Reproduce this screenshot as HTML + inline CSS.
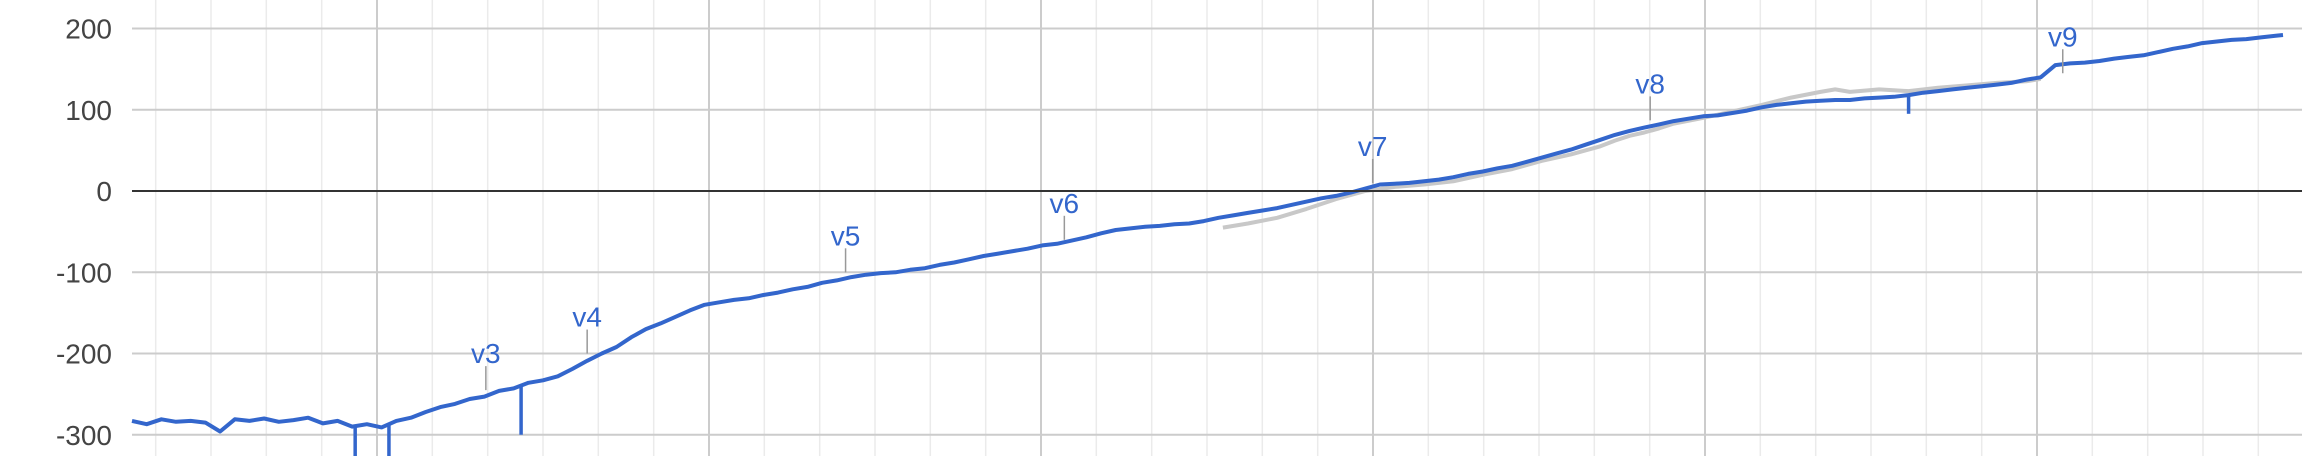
<!DOCTYPE html>
<html><head><meta charset="utf-8"><style>
html,body{margin:0;padding:0;background:#fff;}
svg{display:block;font-family:"Liberation Sans",Arial,sans-serif;}
</style></head><body>
<svg id="chart" width="2302" height="456" viewBox="0 0 2302 456">
<g id="grid"></g>
<g id="yaxis"></g>
<g id="series"></g>
<g id="ann"></g>
</svg>
<script>
const yTicks=[200,100,0,-100,-200,-300];
const blueT=[0,10,20,30,40,50,60,70,80,90,100,110,120,130,140,150,160,170,180,190,200,210,220,230,240,250,260,270,280,290,300,310,320,330,340,350,360,370,380,390,400,410,420,430,440,450,460,470,480,490,500,510,520,530,540,550,560,570,580,590,600,610,620,630,640,650,660,670,680,690,700,710,720,730,740,750,760,770,780,790,800,810,820,830,840,850,860,870,880,890,900,910,920,930,940,950,960,970,980,990,1000,1010,1020,1030,1040,1050,1060,1070,1080,1090,1100,1110,1120,1130,1140,1150,1160,1170,1180,1190,1200,1210,1220,1230,1240,1250,1260,1270,1280,1290,1300,1310,1320,1330,1340,1350,1360,1370,1380,1390,1400,1410,1420,1430,1440,1450,1460,1465];
const blueV=[-283,-287,-281,-284,-283,-285,-296,-281,-283,-280,-284,-282,-279,-286,-283,-290,-287,-291,-283,-279,-272,-266,-262,-256,-253,-246,-243,-236,-233,-228,-219,-209,-200,-192,-180,-170,-163,-155,-147,-140,-137,-134,-132,-128,-125,-121,-118,-113,-110,-106,-103,-101,-100,-97,-95,-91,-88,-84,-80,-77,-74,-71,-67,-65,-61,-57,-52,-48,-46,-44,-43,-41,-40,-37,-33,-30,-27,-24,-21,-17,-13,-9,-6,-2,3,8,9,10,12,14,17,21,24,28,31,36,41,46,51,57,63,69,74,78,82,86,89,92,93,96,99,103,106,108,110,111,112,112,114,115,116,118,121,123,125,127,129,131,133,137,140,155,157,158,160,163,165,167,171,175,178,182,184,186,187,189,191,192];
const spikeT=[152,175,265,1210];
const spikeV=[-335,-335,-300,95];
const grayT=[743,760,780,800,820,840,860,880,900,920,940,960,980,1000,1010,1020,1030,1040,1050,1070,1090,1110,1130,1150,1160,1170,1190,1210,1230,1250,1270,1290,1300];
const grayV=[-45,-40,-33,-22,-10,0,5,8,12,20,27,37,45,55,62,68,72,77,83,90,98,106,115,122,125,122,125,123,127,130,133,135,138];
const annLabels=["v3","v4","v5","v6","v7","v8","v9"];
const annT=[241,310,486,635,845,1034,1315];
const annV=[-250,-205,-105,-65,5,82,140];
const tMax=1465;
const NS="http://www.w3.org/2000/svg";
const L=132,R=2283;
function xs(t){return L+t*(R-L)/tMax;}
function ys(v){return 191-v*0.8125;}
function mk(tag,attrs,parent){const e=document.createElementNS(NS,tag);for(const k in attrs)e.setAttribute(k,attrs[k]);parent.appendChild(e);return e;}
function interp(T,V,t){for(let i=1;i<T.length;i++){if(t<=T[i]){const f=(t-T[i-1])/(T[i]-T[i-1]);return V[i-1]+f*(V[i]-V[i-1]);}}return V[V.length-1];}
const grid=document.getElementById('grid'),yax=document.getElementById('yaxis'),ser=document.getElementById('series'),ann=document.getElementById('ann');
const step=332/6;
for(let x=377-4*step;x<=R+1;x+=step){
 const k=Math.round((x-377)/step);const major=((k%6)+6)%6===0;
 const ln=mk('line',{x1:x.toFixed(1),x2:x.toFixed(1),y1:0,y2:456,stroke:major?'#cccccc':'#ebebeb','stroke-width':major?2:1.5},grid);
 
 
}
yTicks.forEach(v=>{
 const y=ys(v);
 const ln=mk('line',{x1:L,x2:R+19,y1:y,y2:y,stroke:v===0?'#333':'#cccccc','stroke-width':2},v===0?ann:grid);
 
 
 const tx=mk('text',{x:112,y:y+10,'text-anchor':'end','font-size':28,fill:'#444'},yax);
 tx.textContent=String(v);
 
 
});
function path(T,V){return T.map((t,i)=>(i?'L':'M')+xs(t).toFixed(1)+','+ys(V[i]).toFixed(1)).join('');}
const g=mk('path',{d:path(grayT,grayV),fill:'none',stroke:'#c8c8c8','stroke-width':4,'stroke-linejoin':'round'},ser);


const b=mk('path',{d:path(blueT,blueV),fill:'none',stroke:'#3366cc','stroke-width':4,'stroke-linejoin':'round'},ser);


spikeT.forEach((t,i)=>{
 const x=xs(t);
 const sp=mk('line',{x1:x,x2:x,y1:ys(interp(blueT,blueV,t)),y2:ys(spikeV[i]),stroke:'#3366cc','stroke-width':3.5},ser);
 
 
});
annLabels.forEach((lab,i)=>{
 const x=xs(annT[i]),y=ys(annV[i]);
 const tk=mk('line',{x1:x,x2:x,y1:y-4,y2:y-28,stroke:'#999','stroke-width':1.5},ann);
 
 
 const tx=mk('text',{x:x,y:y-31,'text-anchor':'middle','font-size':28,fill:'#3366cc'},ann);
 tx.textContent=lab;
 
 
});
</script>
</body></html>
